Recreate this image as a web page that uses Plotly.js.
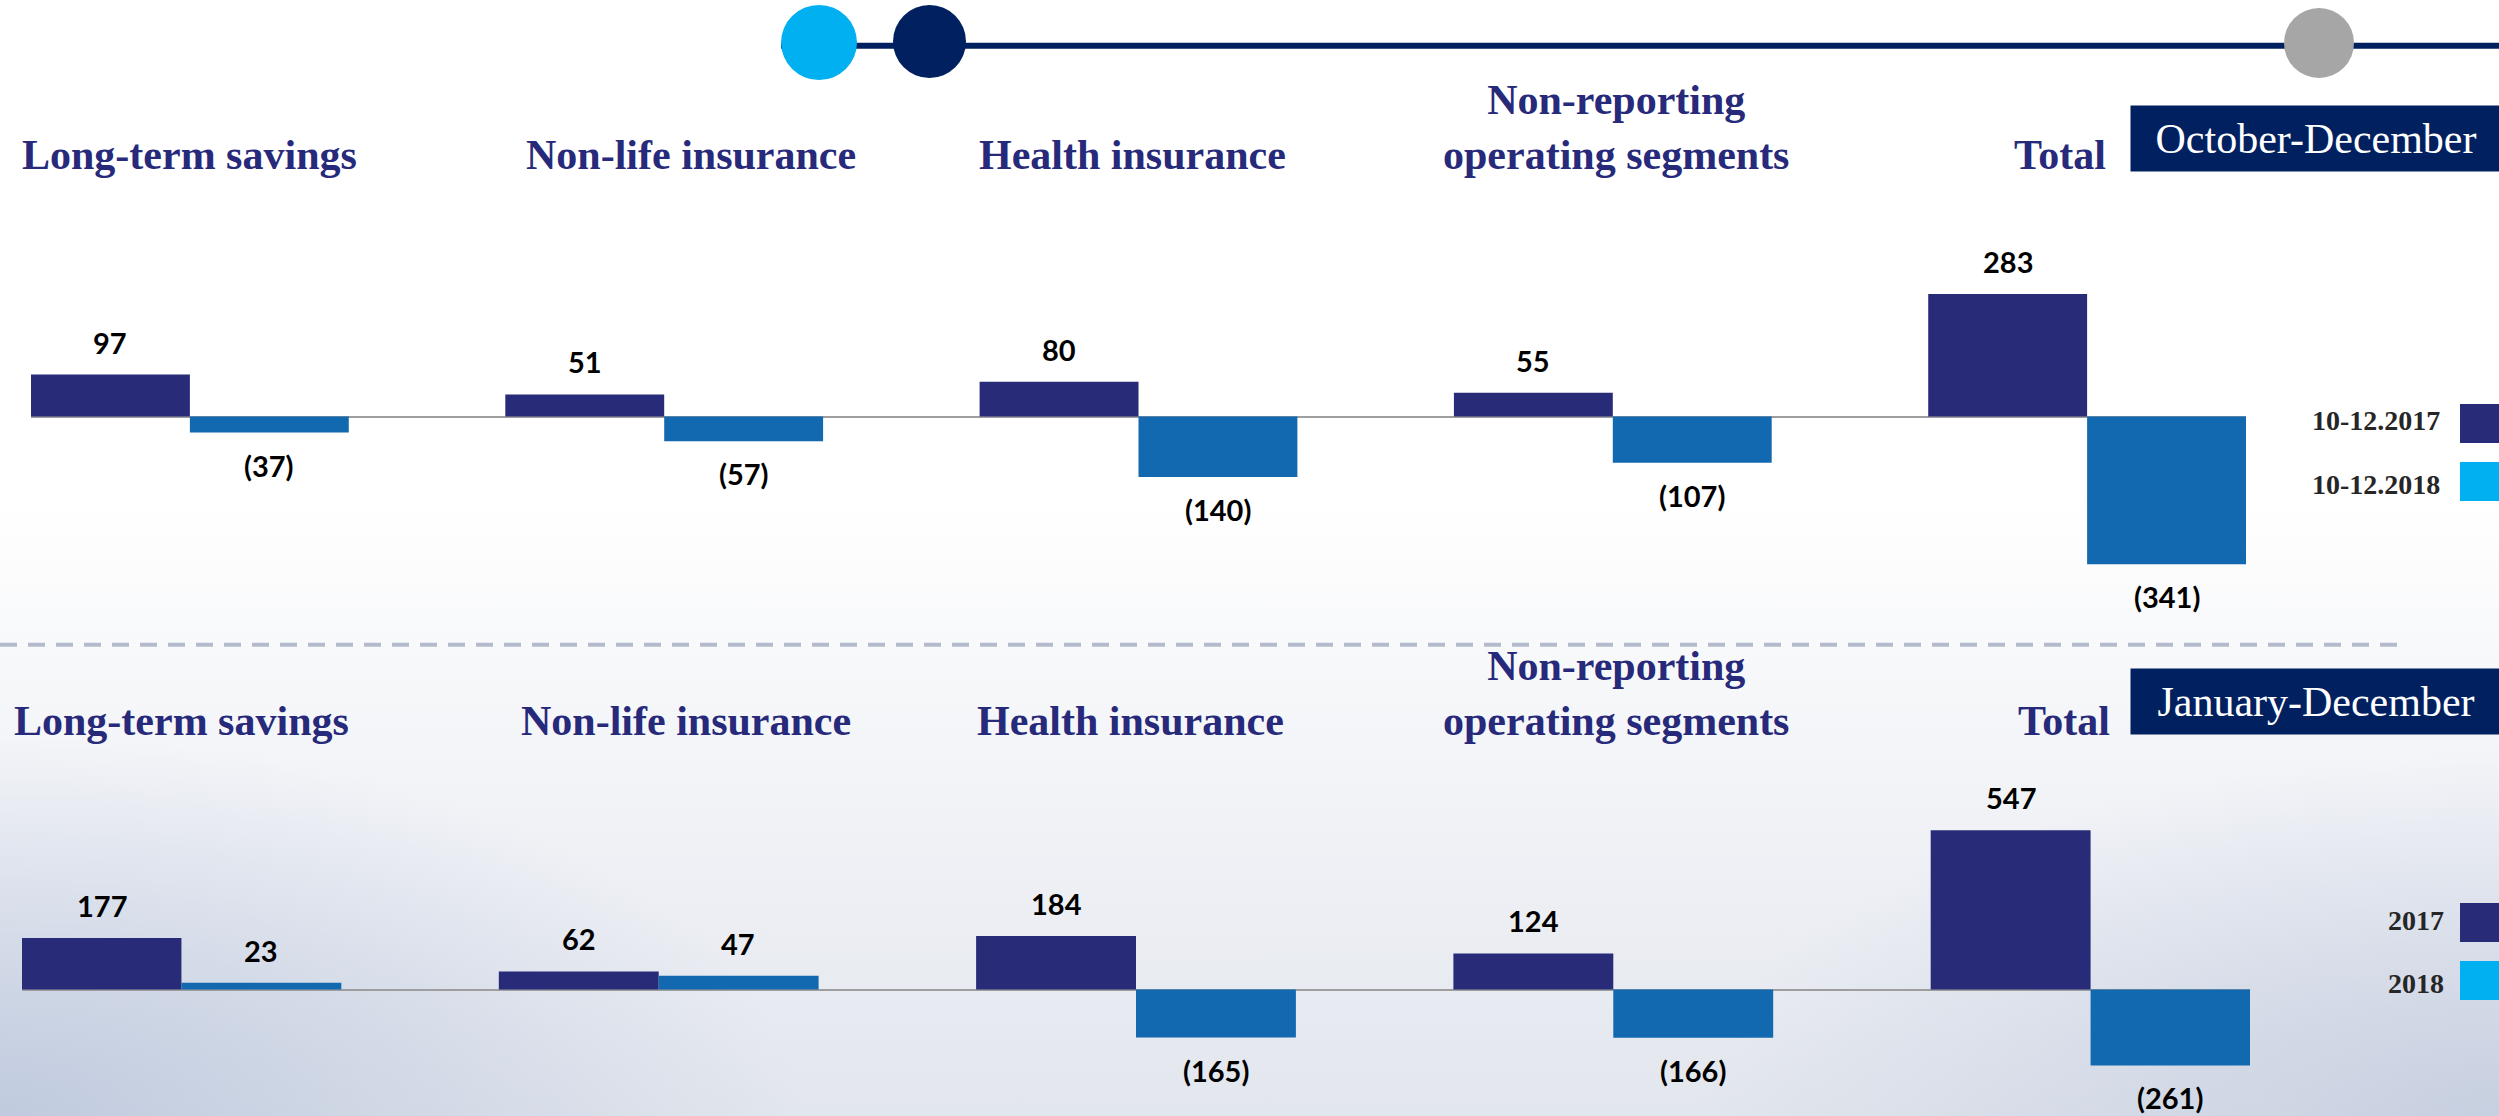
<!DOCTYPE html>
<html><head><meta charset="utf-8">
<script src="https://cdn.plot.ly/plotly-3.0.1.min.js"></script>
<style>
html,body{margin:0;padding:0;width:2499px;height:1116px;overflow:hidden;}
body{background:
 radial-gradient(ellipse 800px 380px at 0% 100%, rgba(186,198,220,0.85), rgba(186,198,220,0) 100%),
 radial-gradient(ellipse 800px 360px at 100% 100%, rgba(190,200,220,0.75), rgba(190,200,220,0) 100%),
 linear-gradient(to bottom, #ffffff 0%, #ffffff 45%, #f7f8fa 60%, #eef0f5 78%, #e2e6ed 100%);}
#chart{width:2499px;height:1116px;}
</style></head><body><div id="chart"></div>
<script>
// ---- data ----
const categories = ["Long-term savings", "Non-life insurance", "Health insurance", "Non-reporting<br>operating segments", "Total"];
const q4_2017 = [97, 51, 80, 55, 283];
const q4_2018 = [-37, -57, -140, -107, -341];
const fy_2017 = [177, 62, 184, 124, 547];
const fy_2018 = [23, 47, -165, -166, -261];
const q4Names = ["10-12.2017", "10-12.2018"];
const fyNames = ["2017", "2018"];
const periodTitles = ["October-December", "January-December"];

// ---- style / layout constants ----
const W = 2499, H = 1116;
const C2017 = "#272B78", C2018 = "#1369B0", CLEG2018 = "#00B0F0", NAVY = "#002060", TITLE = "#27297A";
const px = x => x / W;
const py = y => 1 - y / H;
const titleShift = [0, 27, -6, 3, -27];
const fmt = v => v < 0 ? "(" + (-v) + ")" : String(v);

const traces = [
  {type: "bar", x: categories, y: q4_2017, name: q4Names[0], marker: {color: C2017}, xaxis: "x", yaxis: "y", showlegend: false, hoverinfo: "none"},
  {type: "bar", x: categories, y: q4_2018, name: q4Names[1], marker: {color: C2018}, xaxis: "x", yaxis: "y", showlegend: false, hoverinfo: "none"},
  {type: "bar", x: categories, y: fy_2017, name: fyNames[0], marker: {color: C2017}, xaxis: "x2", yaxis: "y2", showlegend: false, hoverinfo: "none"},
  {type: "bar", x: categories, y: fy_2018, name: fyNames[1], marker: {color: C2018}, xaxis: "x2", yaxis: "y2", showlegend: false, hoverinfo: "none"}
];

const annotations = [];
const shapes = [];

function addPanel(xa, ya, s17, s18, names, period, titleBase, boxTop, boxBot, legRows, legRight) {
  // data labels
  [s17, s18].forEach((series, si) => {
    series.forEach((v, i) => {
      annotations.push({
        xref: xa, yref: ya, x: categories[i], y: v,
        xshift: si === 0 ? -79.5 : 79.5,
        yshift: v >= 0 ? 13 : -13,
        yanchor: v >= 0 ? "bottom" : "top", xanchor: "center",
        text: "<b>" + fmt(v) + "</b>", showarrow: false,
        font: {family: "Lato, 'Open Sans', sans-serif", size: 29, color: "#000000"}
      });
    });
  });
  // segment titles
  categories.forEach((c, i) => {
    annotations.push({
      xref: xa, yref: "paper", x: c, y: py(titleBase), xshift: titleShift[i],
      yanchor: "bottom", xanchor: "center", align: "center",
      text: "<b>" + c + "</b>", showarrow: false,
      font: {family: "'Liberation Serif', 'Times New Roman', serif", size: 42, color: TITLE}
    });
  });
  // period box
  annotations.push({
    xref: "paper", yref: "paper", x: px(2316), y: py((boxTop + boxBot) / 2),
    xanchor: "center", yanchor: "middle", width: 370, height: boxBot - boxTop,
    bgcolor: NAVY, borderpad: 0, text: period, showarrow: false,
    font: {family: "'Liberation Serif', 'Times New Roman', serif", size: 42, color: "#ffffff"}
  });
  // legend
  const legColors = [C2017, CLEG2018];
  legRows.forEach((r, k) => {
    annotations.push({
      xref: "paper", yref: "paper", x: px(legRight), y: py(r.text),
      xanchor: "right", yanchor: "middle", showarrow: false,
      text: "<b>" + names[k] + "</b>",
      font: {family: "'Liberation Serif', 'Times New Roman', serif", size: 28, color: "#262626"}
    });
    shapes.push({type: "rect", xref: "paper", yref: "paper", x0: px(2460), x1: px(2499), y0: py(r.y0), y1: py(r.y0 + 39),
      fillcolor: legColors[k], line: {width: 0}});
  });
}

addPanel("x", "y", q4_2017, q4_2018, q4Names, periodTitles[0], 180, 106, 171,
  [{text: 420, y0: 404}, {text: 484, y0: 462}], 2442);
addPanel("x2", "y2", fy_2017, fy_2018, fyNames, periodTitles[1], 746, 669, 734,
  [{text: 920, y0: 903}, {text: 983, y0: 961}], 2446);

// decorations
shapes.push({type: "line", xref: "paper", yref: "paper", x0: px(781), x1: px(2499), y0: py(45.7), y1: py(45.7), line: {color: NAVY, width: 6}});
shapes.push({type: "circle", xref: "paper", yref: "paper", x0: px(781), x1: px(857), y0: py(80), y1: py(5), fillcolor: "#00B0F0", line: {width: 0}});
shapes.push({type: "circle", xref: "paper", yref: "paper", x0: px(893), x1: px(966), y0: py(78), y1: py(5), fillcolor: NAVY, line: {width: 0}});
shapes.push({type: "circle", xref: "paper", yref: "paper", x0: px(2284), x1: px(2354), y0: py(78), y1: py(8), fillcolor: "#A6A6A6", line: {width: 0}});
shapes.push({type: "line", xref: "paper", yref: "paper", x0: 0, x1: px(2402), y0: py(644.7), y1: py(644.7), line: {color: "#B3BBCD", width: 4, dash: "17px,11px"}});

// axes geometry (pixels -> domain/range)
function yAxis(zeroPx, pxPerUnit, topPx, botPx) {
  return {
    domain: [py(botPx), py(topPx)],
    range: [-(botPx - zeroPx) / pxPerUnit, (zeroPx - topPx) / pxPerUnit],
    showgrid: false, showticklabels: false, ticks: "", showline: false,
    zeroline: true, zerolinecolor: "#9E9E9E", zerolinewidth: 2, fixedrange: true
  };
}
function xAxis(leftPx, rightPx, half) {
  return {
    type: "category", domain: [px(leftPx), px(rightPx)], range: [-half, categories.length - 1 + half],
    showgrid: false, showticklabels: false, ticks: "", showline: false, zeroline: false, fixedrange: true
  };
}

const layout = {
  width: W, height: H,
  margin: {l: 0, r: 0, t: 0, b: 0},
  paper_bgcolor: "rgba(0,0,0,0)", plot_bgcolor: "rgba(0,0,0,0)",
  barmode: "group", bargap: 0.33, bargroupgap: 0,
  showlegend: false,
  xaxis: xAxis(31, 2246, 0.335),
  yaxis: yAxis(416.5, 0.433, 240, 600),
  xaxis2: Object.assign(xAxis(22, 2250, 0.334), {anchor: "y2"}),
  yaxis2: Object.assign(yAxis(989.5, 0.291, 790, 1110), {anchor: "x2"}),
  annotations: annotations,
  shapes: shapes
};
layout.yaxis.anchor = "x";
layout.xaxis.anchor = "y";

Plotly.newPlot("chart", traces, layout, {staticPlot: true, displayModeBar: false});
</script>
</body></html>
